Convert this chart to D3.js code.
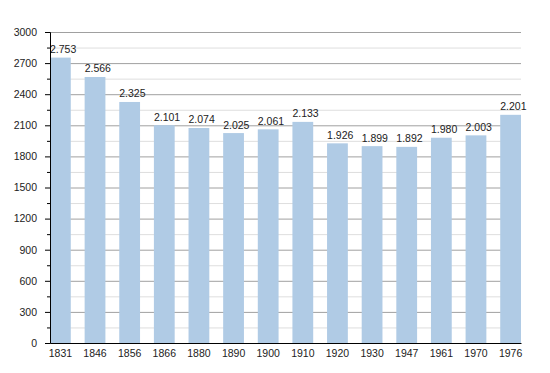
<!DOCTYPE html>
<html>
<head>
<meta charset="utf-8">
<script src="https://cdn.jsdelivr.net/npm/d3@7"></script>
<style>
  body { margin: 0; background: #fff; }
  text { font-family: "Liberation Sans", Arial, sans-serif; fill: #222; }
</style>
</head>
<body>
<div id="app"></div>
<script>
// census years and population
const years = ['1831', '1846', '1856', '1866', '1880', '1890', '1900', '1910', '1920', '1930', '1947', '1961', '1970', '1976']
const population = [2753, 2566, 2325, 2101, 2074, 2025, 2061, 2133, 1926, 1899, 1892, 1980, 2003, 2201]
const y_ticks = [0, 300, 600, 900, 1200, 1500, 1800, 2100, 2400, 2700, 3000]

const width = 550
const height = 373
const plot_left = 50
const plot_right = 521
const plot_bottom = 343
const plot_top = 32

const svg = d3.select('#app')
  .append('svg')
  .attr('width', width)
  .attr('height', height)

const x_scale = d3.scaleBand()
  .domain(years)
  .range([plot_left, plot_right])
  .paddingInner(0.4)
  .paddingOuter(0)

const y_scale = d3.scaleLinear()
  .domain([0, 3000])
  .range([plot_bottom, plot_top])

// minor gridlines (every 150)
const minor = d3.range(150, 3000, 300)
svg.append('g').selectAll('line').data(minor).join('line')
  .attr('x1', plot_left).attr('x2', plot_right)
  .attr('y1', d => y_scale(d) + 0.5).attr('y2', d => y_scale(d) + 0.5)
  .attr('stroke', '#dedede')

// major gridlines
svg.append('g').selectAll('line').data(y_ticks.slice(1)).join('line')
  .attr('x1', plot_left).attr('x2', plot_right)
  .attr('y1', d => y_scale(d) + 0.5).attr('y2', d => y_scale(d) + 0.5)
  .attr('stroke', '#a0a0a0')

// bars
svg.append('g').selectAll('rect').data(population).join('rect')
  .attr('x', (d, i) => x_scale(years[i]))
  .attr('y', d => y_scale(d))
  .attr('width', x_scale.bandwidth())
  .attr('height', d => y_scale(0) - y_scale(d))
  .attr('fill', '#b0cbe5')

// value labels, left aligned to each bar
svg.append('g').selectAll('text').data(population).join('text')
  .attr('x', (d, i) => x_scale(years[i]))
  .attr('y', d => y_scale(d) - 4.5)
  .attr('font-size', 10.5)
  .text(d => d3.format(',')(d).replace(',', '.'))

// y axis
const y_axis = svg.append('g')
  .attr('transform', `translate(${plot_left},0)`)
  .call(d3.axisLeft(y_scale).tickValues(y_ticks).tickSize(5).tickPadding(8).tickFormat(d3.format('d')))
y_axis.select('.domain').attr('stroke', '#000')
y_axis.selectAll('.tick line').attr('stroke', '#000')
y_axis.selectAll('.tick text').attr('font-size', 10.5).attr('fill', '#222')
  .attr('font-family', '"Liberation Sans", Arial, sans-serif')

// minor ticks
y_axis.append('g').selectAll('line').data(minor).join('line')
  .attr('x1', -3).attr('x2', 0)
  .attr('y1', d => y_scale(d) + 0.5).attr('y2', d => y_scale(d) + 0.5)
  .attr('stroke', '#000')

// x axis
const x_axis = svg.append('g')
  .attr('transform', `translate(0,${plot_bottom})`)
  .call(d3.axisBottom(x_scale).tickSize(0).tickPadding(7).tickSizeOuter(0))
x_axis.select('.domain').attr('stroke', '#000')
x_axis.selectAll('.tick text').attr('font-size', 10.5).attr('fill', '#222')
  .attr('font-family', '"Liberation Sans", Arial, sans-serif')
</script>
</body>
</html>
